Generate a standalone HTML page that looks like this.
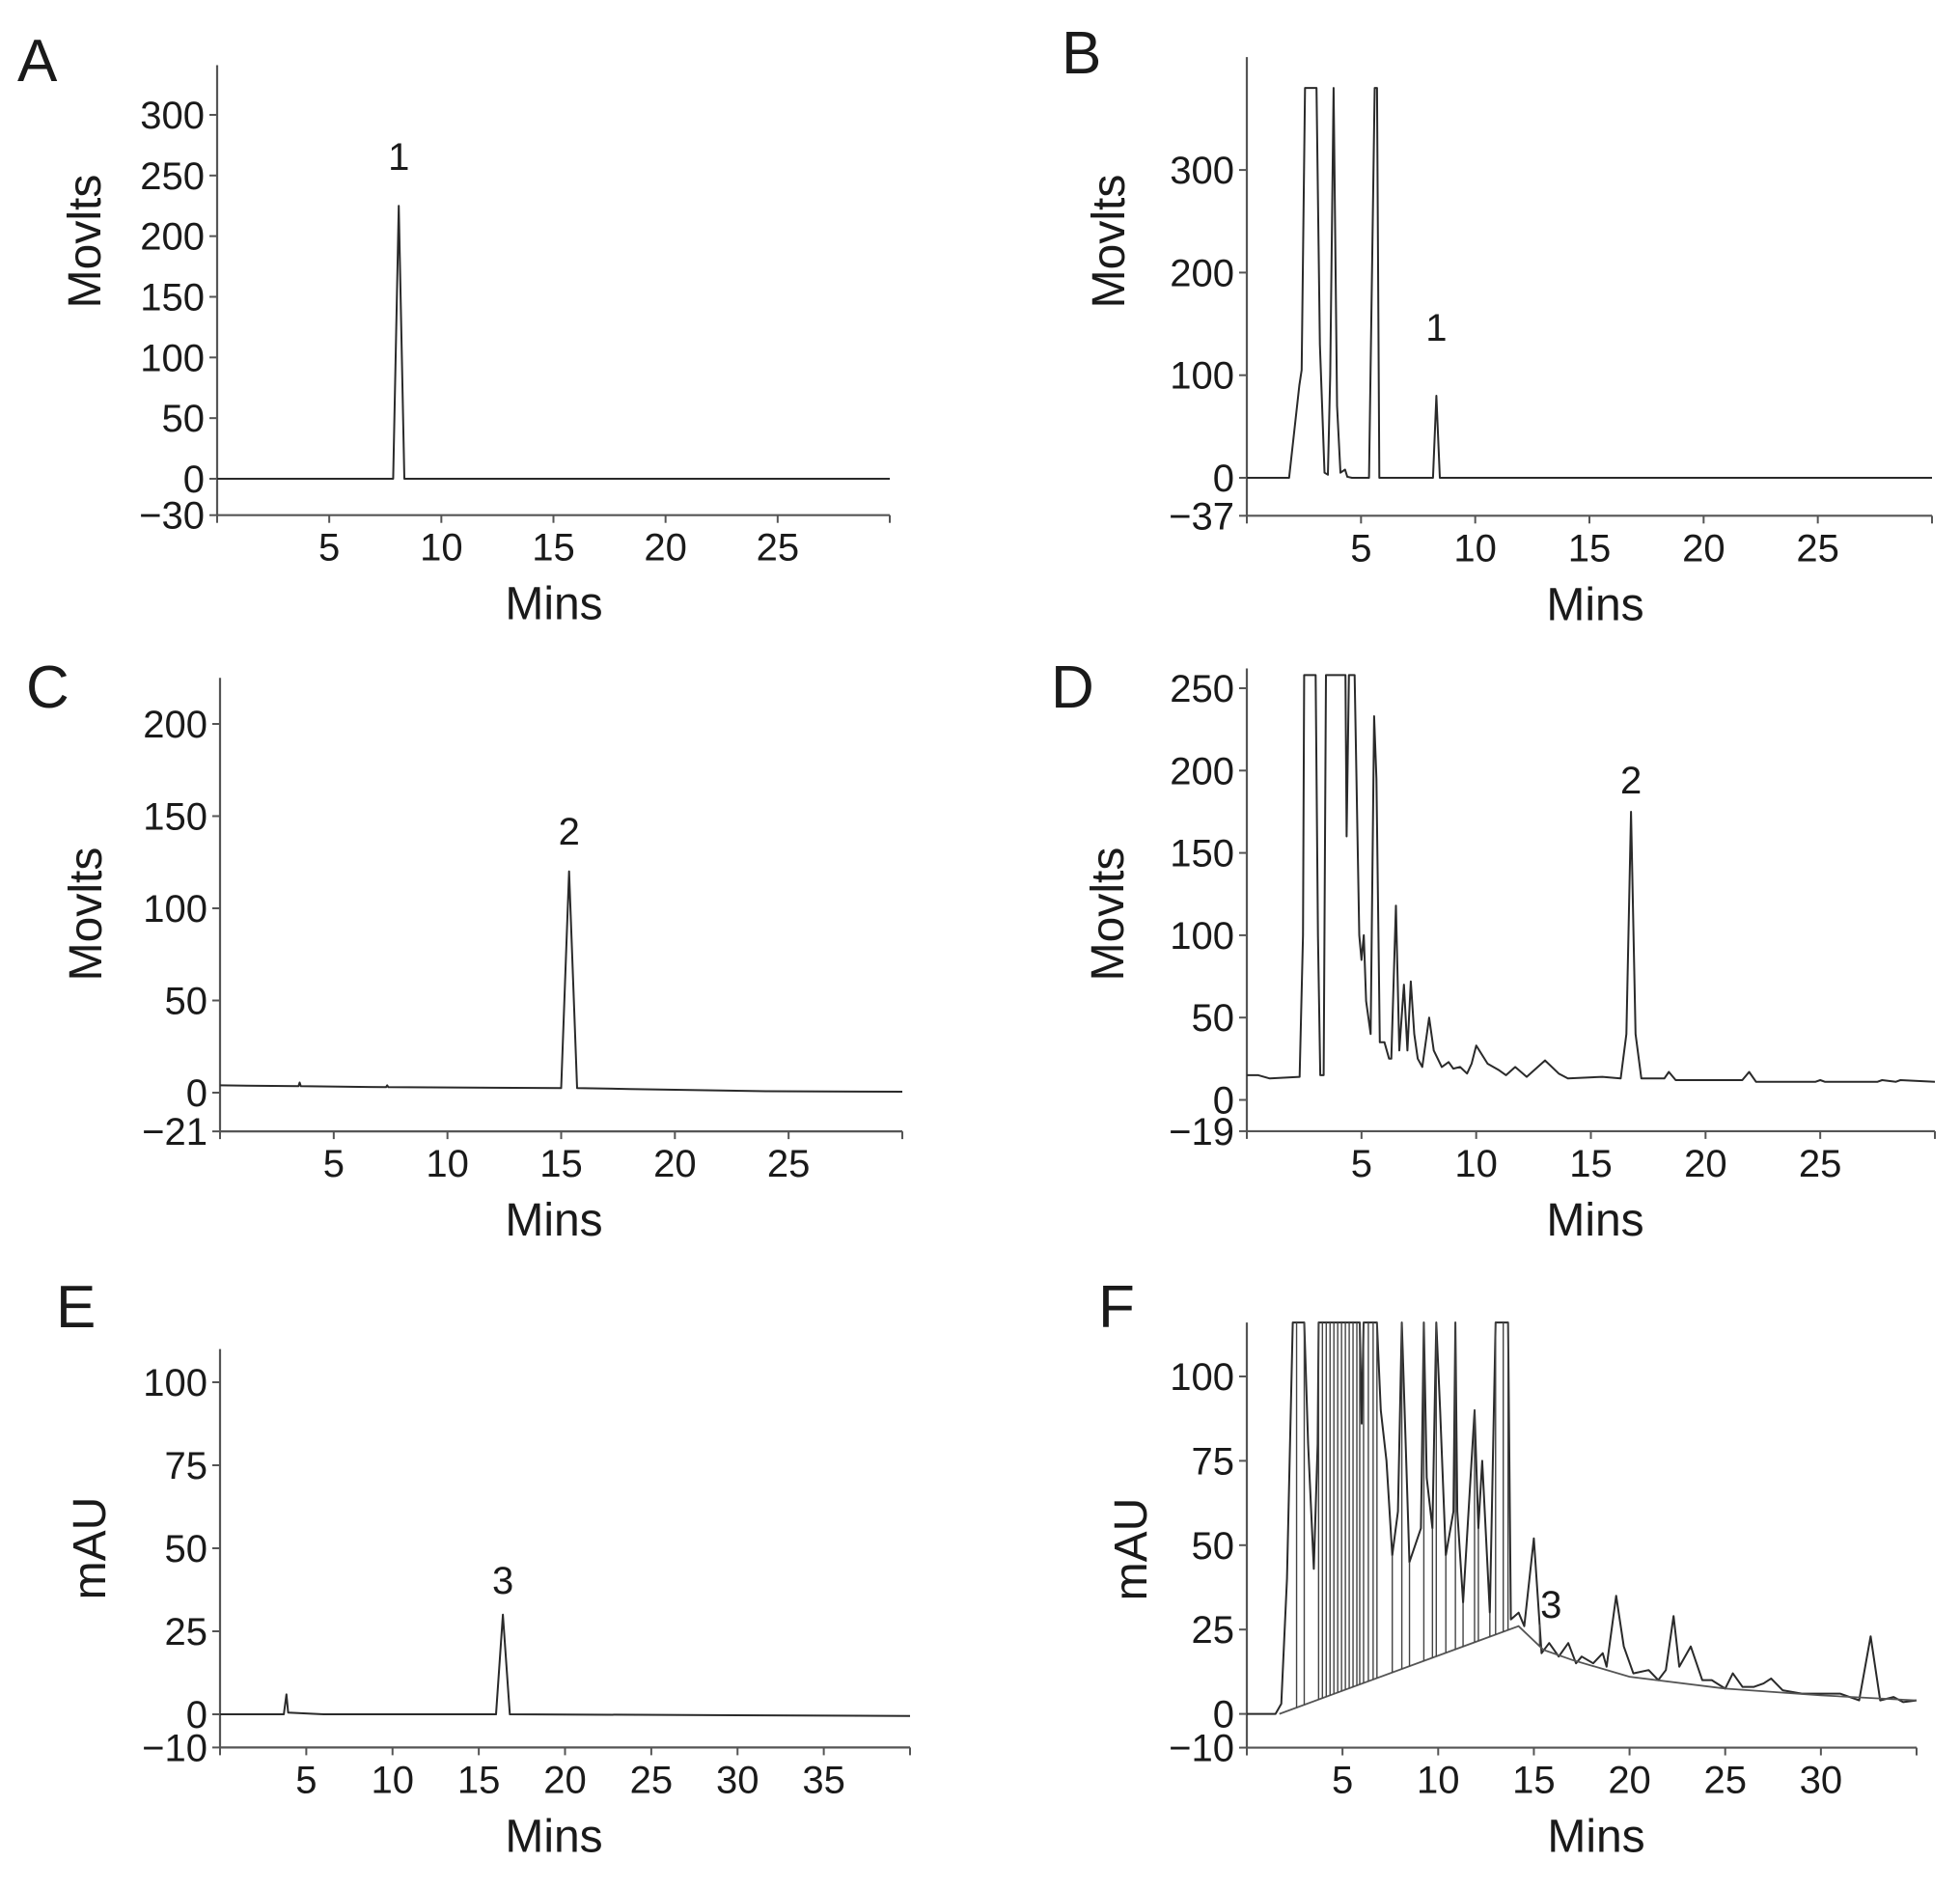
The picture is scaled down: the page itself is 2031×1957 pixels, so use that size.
<!DOCTYPE html>
<html><head><meta charset="utf-8">
<style>
html,body{margin:0;padding:0;background:#fff;}
svg{display:block;}
text{font-family:"Liberation Sans",sans-serif;fill:#1a1a1a;}
</style></head>
<body>
<svg id="fig" xmlns="http://www.w3.org/2000/svg" width="2031" height="1957" viewBox="0 0 2031 1957"></svg>
<script>
// ---- Panel A data ----
const aTime = [0, 7.85, 8.1, 8.35, 30];
const aValue = [0, 0, 225, 0, 0];
// ---- Panel B data ----
const bTime = [0, 1.85, 2.3, 2.4, 2.55, 3.05, 3.2, 3.4, 3.55, 3.65, 3.8, 3.95, 4.1, 4.3, 4.4, 4.6, 5.35, 5.6, 5.7, 5.8, 8.15, 8.3, 8.45, 30];
const bValue = [0, 0, 90, 105, 380, 380, 130, 5, 3, 100, 380, 70, 5, 8, 1, 0, 0, 380, 380, 0, 0, 80, 0, 0];
// ---- Panel C data ----
const cTime = [0, 3.45, 3.5, 3.55, 7.3, 7.35, 7.4, 15.0, 15.35, 15.7, 18, 24, 30];
const cValue = [4, 3.5, 5.5, 3.5, 3, 4, 3, 2.5, 120, 2.5, 2, 0.8, 0.5];
// ---- Panel D data ----
const dTime = [0, 0.5, 1, 2.3, 2.45, 2.5, 3.0, 3.1, 3.2, 3.35, 3.45, 4.3, 4.35, 4.45, 4.7, 4.9, 5.0, 5.1, 5.2, 5.4, 5.55, 5.65, 5.8, 6.0, 6.2, 6.3, 6.5, 6.65, 6.85, 7.0, 7.15, 7.3, 7.45, 7.65, 7.95, 8.15, 8.5, 8.8, 9.0, 9.3, 9.6, 9.8, 10.0, 10.5, 11.0, 11.3, 11.7, 12.2, 13.0, 13.6, 14.0, 15.5, 16.3, 16.55, 16.75, 16.95, 17.2, 18.2, 18.4, 18.7, 21.6, 21.9, 22.2, 24.8, 25.0, 25.2, 27.5, 27.7, 28.3, 28.5, 30];
const dValue = [15, 15, 13, 14, 100, 258, 258, 100, 15, 15, 258, 258, 160, 258, 258, 100, 85, 100, 60, 40, 233, 195, 35, 35, 25, 25, 118, 30, 70, 30, 72, 40, 25, 20, 50, 30, 20, 23, 19, 20, 16, 22, 33, 22, 18, 15, 20, 14, 24, 16, 13, 14, 13, 40, 175, 40, 13, 13, 17, 12, 12, 17, 11, 11, 12, 11, 11, 12, 11, 12, 11];
// ---- Panel E data ----
const eTime = [0, 3.7, 3.85, 3.95, 6, 16.0, 16.4, 16.8, 40];
const eValue = [0, 0, 6, 0.5, 0, 0, 30, 0, -0.5];
// ---- Panel F data (trace) ----
const fTime = [0, 1.5, 1.8, 2.1, 2.4, 2.6, 3.0, 3.2, 3.5, 3.7, 3.75, 5.9, 6.0, 6.1, 6.8, 7.0, 7.3, 7.6, 7.9, 8.1, 8.3, 8.5, 9.1, 9.25, 9.4, 9.7, 9.9, 10.1, 10.4, 10.8, 10.9, 11.0, 11.3, 11.9, 12.1, 12.3, 12.7, 13.0, 13.65, 13.8, 14.2, 14.5, 15.0, 15.4, 15.8, 16.3, 16.8, 17.2, 17.5, 18.1, 18.6, 18.8, 19.3, 19.7, 20.2, 21.0, 21.5, 21.9, 22.3, 22.6, 23.2, 23.8, 24.3, 25.0, 25.4, 25.9, 26.5, 27.0, 27.4, 28.0, 29.0, 31.0, 31.5, 32.0, 32.6, 33.1, 33.8, 34.3, 35];
const fValue = [0, 0, 3, 40, 116, 116, 116, 80, 43, 80, 116, 116, 86, 116, 116, 90, 75, 47, 60, 116, 80, 45, 55, 116, 70, 55, 116, 90, 47, 60, 116, 60, 33, 90, 55, 75, 30, 116, 116, 28, 30, 26, 52, 18, 21, 17, 21, 15, 17, 15, 18, 14, 35, 20, 12, 13, 10, 13, 29, 14, 20, 10, 10, 7.5, 12, 8, 8, 9, 10.5, 7, 6, 6, 5, 4, 23, 4, 5, 3.5, 4];
// ---- Panel F data (integration baseline) ----
const fBaseTime = [1.7, 14.2, 15.5, 17, 20, 25, 30, 35];
const fBaseValue = [0, 26, 19, 16, 11, 7.5, 5.5, 4];
// ---- Panel F data (peak drop-line times) ----
const fDropTimes = [2.6, 3.0, 3.75, 3.95, 4.15, 4.35, 4.55, 4.75, 4.95, 5.15, 5.35, 5.55, 5.75, 5.9, 6.1, 6.35, 6.6, 6.8, 7.6, 8.1, 8.5, 9.25, 9.7, 9.9, 10.4, 10.9, 11.3, 11.9, 12.1, 12.7, 13.0, 13.4, 13.65, 15.3];
// ---- Tick labels ----
const aYTicks = [-30, 0, 50, 100, 150, 200, 250, 300];
const bYTicks = [-37, 0, 100, 200, 300];
const cYTicks = [-21, 0, 50, 100, 150, 200];
const dYTicks = [-19, 0, 50, 100, 150, 200, 250];
const eYTicks = [-10, 0, 25, 50, 75, 100];
const fYTicks = [-10, 0, 25, 50, 75, 100];
const xTicks30 = [5, 10, 15, 20, 25];
const xTicks40 = [5, 10, 15, 20, 25, 30, 35];
const xTicks35 = [5, 10, 15, 20, 25, 30];
// ---- Peak annotations ----
const aPeakTime = 8.1, bPeakTime = 8.3, cPeakTime = 15.35, dPeakTime = 16.75, ePeakTime = 16.4, fPeakTime = 15.9;

const NS = 'http://www.w3.org/2000/svg';
const svg = document.getElementById('fig');
function mk(tag, attrs, parent) {
  const e = document.createElementNS(NS, tag);
  for (const k in attrs) e.setAttribute(k, attrs[k]);
  (parent || svg).appendChild(e);
  return e;
}
function fmt(v){ return v < 0 ? '\u2212' + Math.abs(v) : String(v); }

function drawPanel(p, times, values, yTicks, xTicks, peakTime, peakLabel) {
  const g = mk('g', {});
  
  
  const xs = t => p.x0 + (t / p.xmax) * (p.x1 - p.x0);
  const ys = v => p.y0 - v * p.k;
  const yBot = ys(p.ymin), yTop = ys(p.ymax);
  // letter
  const L = mk('text', {x: p.lx, y: p.ly, 'font-size': 62}, g);
  L.textContent = p.id;
  
  
  // axes
  const ya = mk('line', {x1: p.x0, y1: yTop, x2: p.x0, y2: yBot, stroke: '#555', 'stroke-width': 2.2}, g);
  
  
  const xa = mk('line', {x1: p.x0, y1: yBot, x2: p.x1, y2: yBot, stroke: '#555', 'stroke-width': 2.2}, g);
  
  
  // y ticks
  yTicks.forEach(v => {
    const y = ys(v);
    mk('line', {x1: p.x0 - 8, y1: y, x2: p.x0, y2: y, stroke: '#555', 'stroke-width': 2}, g);
    const t = mk('text', {x: p.x0 - 13, y: y + 14, 'font-size': 40, 'text-anchor': 'end'}, g);
    t.textContent = fmt(v);
    
    
  });
  // x ticks
  [0].concat(xTicks, [p.xmax]).forEach(v => {
    const x = xs(v);
    mk('line', {x1: x, y1: yBot, x2: x, y2: yBot + 8, stroke: '#555', 'stroke-width': 2}, g);
  });
  xTicks.forEach(v => {
    const t = mk('text', {x: xs(v), y: yBot + 47, 'font-size': 40, 'text-anchor': 'middle'}, g);
    t.textContent = v;
    
    
  });
  // titles
  const xt = mk('text', {x: p.mx, y: yBot + 108, 'font-size': 48, 'text-anchor': 'middle'}, g);
  xt.textContent = 'Mins';
  
  
  const yt = mk('text', {x: 0, y: 0, 'font-size': 48, 'text-anchor': 'middle', transform: 'translate(' + p.tx + ',' + p.ty + ') rotate(-90)'}, g);
  yt.textContent = p.ytitle;
  
  
  // trace
  const pts = times.map((t, i) => xs(t).toFixed(1) + ',' + ys(values[i]).toFixed(1)).join(' ');
  const pl = mk('polyline', {points: pts, fill: 'none', stroke: '#2a2a2a', 'stroke-width': 2, 'stroke-linejoin': 'round'}, g);
  
  
  // peak label
  const pk = mk('text', {x: xs(peakTime), y: p.py, 'font-size': 40, 'text-anchor': 'middle'}, g);
  pk.textContent = peakLabel;
  
  
  return {g, xs, ys};
}

const panels = {
  A: {id:'A', x0:225, x1:922, xmax:30, y0:496, k:1.2567, ymin:-30, ymax:341, lx:18, ly:84, mx:574, tx:104, ty:250, ytitle:'Movlts', py:176},
  B: {id:'B', x0:1292, x1:2002, xmax:30, y0:495, k:1.063, ymin:-37, ymax:410, lx:1100, ly:76, mx:1653, tx:1165, ty:250, ytitle:'Movlts', py:353},
  C: {id:'C', x0:228, x1:935, xmax:30, y0:1132, k:1.91, ymin:-21, ymax:225, lx:27, ly:733, mx:574, tx:105, ty:947, ytitle:'Movlts', py:875},
  D: {id:'D', x0:1292, x1:2005, xmax:30, y0:1139.5, k:1.706, ymin:-19, ymax:262, lx:1089, ly:733, mx:1653, tx:1164, ty:947, ytitle:'Movlts', py:822},
  E: {id:'E', x0:228, x1:943, xmax:40, y0:1776, k:3.44, ymin:-10, ymax:110, lx:58, ly:1375, mx:574, tx:109, ty:1604, ytitle:'mAU', py:1651},
  F: {id:'F', x0:1292, x1:1986, xmax:35, y0:1775.6, k:3.496, ymin:-10, ymax:116, lx:1138, ly:1375, mx:1654, tx:1188, ty:1605, ytitle:'mAU', py:1676}
};

drawPanel(panels.A, aTime, aValue, aYTicks, xTicks30, aPeakTime, '1');
drawPanel(panels.B, bTime, bValue, bYTicks, xTicks30, bPeakTime, '1');
drawPanel(panels.C, cTime, cValue, cYTicks, xTicks30, cPeakTime, '2');
drawPanel(panels.D, dTime, dValue, dYTicks, xTicks30, dPeakTime, '2');
drawPanel(panels.E, eTime, eValue, eYTicks, xTicks40, ePeakTime, '3');
const F = drawPanel(panels.F, fTime, fValue, fYTicks, xTicks35, fPeakTime, '3');

// F integration baseline and drop lines
function interp(ts, vs, t) {
  if (t <= ts[0]) return vs[0];
  for (let i = 1; i < ts.length; i++) {
    if (t <= ts[i]) { const r = (t - ts[i-1]) / (ts[i] - ts[i-1]); return vs[i-1] + r * (vs[i] - vs[i-1]); }
  }
  return vs[vs.length - 1];
}
const bpts = fBaseTime.map((t, i) => F.xs(t).toFixed(1) + ',' + F.ys(fBaseValue[i]).toFixed(1)).join(' ');
const bl = mk('polyline', {points: bpts, fill: 'none', stroke: '#555', 'stroke-width': 1.8}, F.g);


fDropTimes.forEach(t => {
  const x = F.xs(t);
  const ln = mk('line', {x1: x, y1: F.ys(interp(fTime, fValue, t)), x2: x, y2: F.ys(interp(fBaseTime, fBaseValue, t)), stroke: '#444', 'stroke-width': 1.4}, F.g);
  
  
});
</script>
</body></html>
